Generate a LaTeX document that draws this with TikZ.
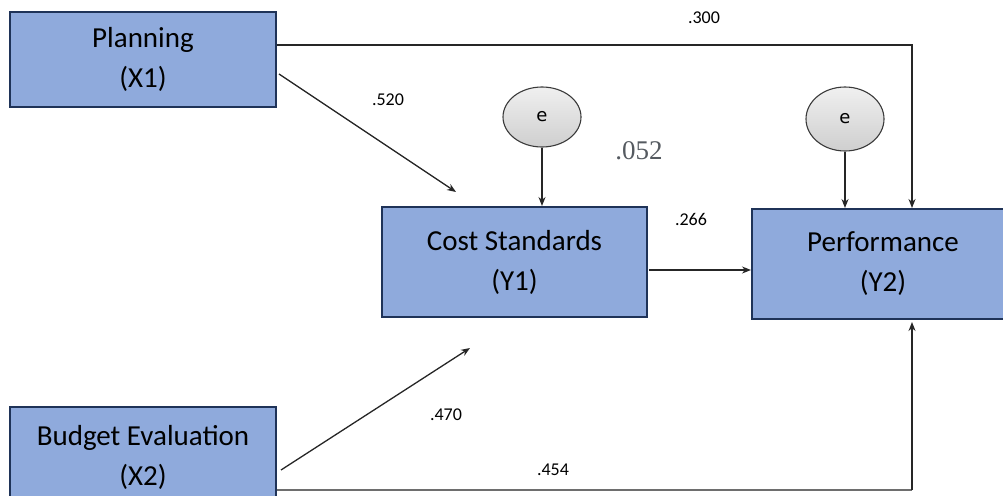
\documentclass[tikz,border=0pt]{standalone}
\usepackage{fontspec}
\setmainfont{Carlito}
\newfontfamily\errfont{DejaVu Sans}
\newfontfamily\serifnum{Liberation Serif}
\usetikzlibrary{arrows.meta,shapes.geometric,calc}
\definecolor{boxfill}{HTML}{8FAADC}
\definecolor{boxline}{HTML}{1F3358}
\definecolor{errline}{HTML}{3A3A3A}
\definecolor{linecol}{HTML}{262626}
\definecolor{lowline}{HTML}{6E6E6E}
\definecolor{rsq}{HTML}{555A60}
\begin{document}
\begin{tikzpicture}[x=1pt,y=-1pt,
  var/.style={draw=boxline, line width=2pt, fill=boxfill, inner sep=0pt,
    align=center, font=\fontsize{29}{40}\selectfont},
  err/.style={ellipse, draw=errline, line width=1.1pt, top color=gray!12,
    bottom color=gray!38, minimum width=78pt, minimum height=60pt,
    inner sep=0pt, font=\errfont\fontsize{18}{20}\selectfont},
  link/.style={draw=linecol, line width=1.3pt,
    -{Stealth[length=9pt,width=7pt]}},
  coef/.style={inner sep=0pt, font=\fontsize{18}{20}\selectfont}]
\useasboundingbox (0,0) rectangle (1003,495);
\clip (0,0) rectangle (1003,495);

% observed variables
\node[var, minimum width=266pt, minimum height=95pt]  (plan) at (143,59.5) {Planning\\(X1)};
\node[var, minimum width=265pt, minimum height=110pt] (cost) at (514.5,262) {Cost Standards\\(Y1)};
\node[var, minimum width=262pt, minimum height=110pt] (perf) at (883,264) {Performance\\(Y2)};
\node[var, minimum width=266pt, minimum height=100pt] (budg) at (143,457) {Budget Evaluation\\(X2)};

% error terms
\node[err] (e1) at (542,117) {e};
\node[err, minimum height=64pt] (e2) at (845,119) {e};

% routing points
\coordinate (tr) at (912,45);
\coordinate (br) at (912,490);
\coordinate (c1) at (456,192);
\coordinate (c2) at (470,348);

% paths
\draw[link] (e1.south) -- (e1.south |- cost.north);
\draw[link] (e2.south) -- (e2.south |- perf.north);
\draw[link] (plan.east |- tr) -- (tr) -- (tr |- perf.north);
\draw[link] ($(plan.east)+(2,14.5)$) -- (c1);
\draw[link] ($(cost.east)+(1,8)$) -- ($(perf.west)+(0,6)$);
\draw[link] ($(budg.east)+(4,13)$) -- (c2);
\draw[draw=lowline, line width=2pt] (budg.east |- br) -- (br);
\draw[link] (br) -- ($(br |- perf.south)+(0,2)$);

% coefficients
\node[coef] (k300) at (704,17.5) {.300};
\node[coef] (k520) at (388,100) {.520};
\node[coef] (k266) at (691,219) {.266};
\node[coef] (k470) at (446,415) {.470};
\node[coef] (k454) at (553,470) {.454};
\node[inner sep=0pt, text=rsq, font=\serifnum\fontsize{27}{30}\selectfont] (r2) at (639,151) {.052};
\end{tikzpicture}
\end{document}
